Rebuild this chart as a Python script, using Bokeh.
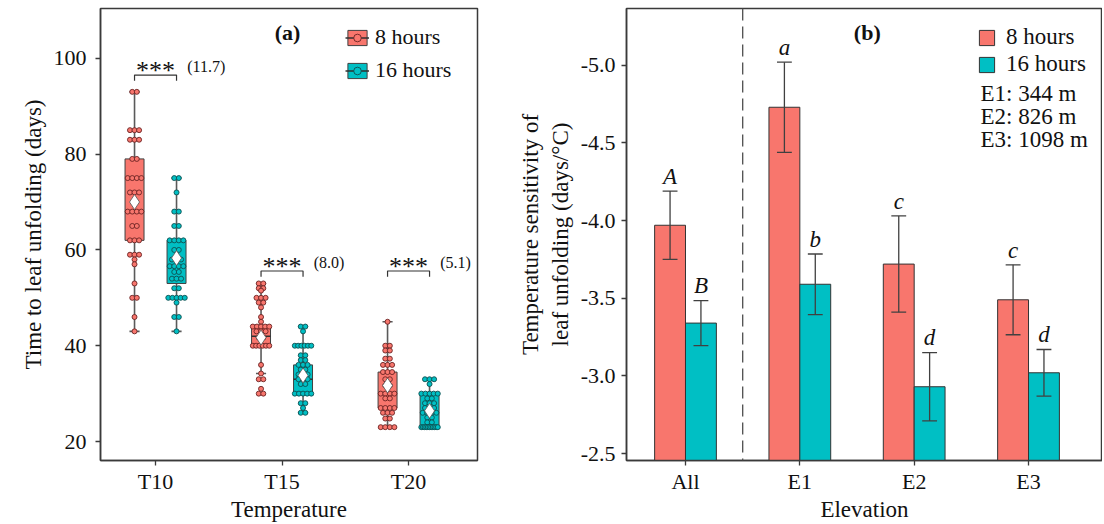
import numpy as np
from collections import Counter
from bokeh.plotting import figure
from bokeh.layouts import row
from bokeh.models import (Range1d, FixedTicker, Legend, LegendItem, Span,
                          NumeralTickFormatter)
from bokeh.core.properties import value
from bokeh.embed import file_html
from bokeh.resources import INLINE

# ---------------- data: panel (a) ----------------
temps = ["T10", "T15", "T20"]
photoperiods = ["8 hours", "16 hours"]
colors = ["#F8766D", "#00BFC4"]
point_edges = ["#6b2323", "#0d4f50"]
y_ticks_a = [20, 40, 60, 80, 100]

pts_8h = {
    "T10": [93, 93, 85, 85, 85, 83, 83, 83, 79, 79, 75, 75, 75, 75, 72, 72, 72, 68, 68, 68, 68,
            65, 65, 62, 62, 62, 59, 59, 59, 58, 57, 53, 50, 50, 46, 43],
    "T15": [53, 53, 52, 52, 51.5, 50, 50, 50, 49, 49, 48, 46, 45, 44, 44, 44, 44, 44, 43, 43, 43,
            41.7, 41.7, 40, 40, 40, 40, 40, 40, 36, 34.2, 33, 33, 31, 30, 30],
    "T20": [45, 40, 40, 39, 39, 37.3, 37.3, 36, 36, 36, 34.5, 34.5, 34.5, 33, 33, 31.7, 31.7,
            30, 30, 30, 30, 29, 29, 27, 27, 27, 27, 26, 26, 26, 24.8, 24.8, 23, 23, 23, 23],
}
pts_16h = {
    "T10": [75, 75, 72, 68, 68, 65, 65, 62, 62, 62, 62, 60, 60, 58, 58, 58, 56.6, 56.6, 56.6, 56.6,
            55.4, 55.4, 54, 54, 54, 52, 52, 50, 50, 50, 50, 50, 49, 46, 46, 43],
    "T15": [44, 44, 43, 40, 40, 40, 40, 40, 40, 38, 38, 37, 37, 36, 36, 36, 35, 35, 34, 34, 34,
            33, 33, 33, 32, 32, 30, 30, 30, 30, 30, 28, 28, 27, 26, 26],
    "T20": [33, 33, 33, 32, 30, 30, 30, 30, 30, 29, 29, 28, 28, 28, 27, 27, 27, 26, 26, 26, 26,
            25, 25, 24, 24, 23, 23, 23, 23, 23, 23, 23, 23, 23, 23, 23],
}
# box statistics: whisker low, Q1, median, Q3, whisker high, mean
lo_8h = [43, 34.2, 23]
q1_8h = [62, 40, 27]
med_8h = [68, 42, 30]
q3_8h = [79, 44, 34.5]
hi_8h = [93, 53, 45]
mean_8h = [70, 41.7, 31.7]

lo_16h = [43, 26, 23]
q1_16h = [53, 30, 23]
med_16h = [56.6, 33, 26]
q3_16h = [62, 36, 30.2]
hi_16h = [75, 44, 33]
mean_16h = [58.3, 33.8, 26.4]

sig_marks = ["***", "***", "***"]
sig_diffs = ["(11.7)", "(8.0)", "(5.1)"]

# ---------------- data: panel (b) ----------------
elevations = ["All", "E1", "E2", "E3"]
elev_m = [344, 826, 1098]
sens_8h = [-3.97, -4.73, -3.72, -3.49]
se_8h = [0.22, 0.29, 0.31, 0.225]
sens_16h = [-3.34, -3.59, -2.93, -3.02]
se_16h = [0.145, 0.195, 0.22, 0.15]
letters_8h = ["A", "a", "c", "c"]
letters_16h = ["B", "b", "d", "d"]
y_ticks_b = [-5.0, -4.5, -4.0, -3.5, -3.0, -2.5]

FONT = "Liberation Serif"
AX = "#3a3a3a"
H = 524


def style_axes(p, fs="22px", lfs="23px"):
    p.xgrid.visible = False
    p.ygrid.visible = False
    p.outline_line_color = AX
    p.outline_line_width = 1.5
    p.background_fill_color = "white"
    p.border_fill_color = "white"
    for ax in (p.xaxis[0], p.yaxis[0]):
        ax.axis_line_color = AX
        ax.axis_line_width = 1.5
        ax.major_tick_line_color = AX
        ax.major_tick_line_width = 1.3
        ax.major_tick_in = 0
        ax.major_tick_out = 5
        ax.minor_tick_line_color = None
        ax.major_label_text_font = FONT
        ax.major_label_text_font_size = fs
        ax.major_label_text_color = "#111111"
        ax.axis_label_text_font = FONT
        ax.axis_label_text_font_size = lfs
        ax.axis_label_text_font_style = "normal"
        ax.axis_label_text_color = "#111111"
    p.xaxis.major_label_standoff = 3
    p.xaxis.axis_label_standoff = 0
    p.yaxis.major_label_standoff = 9


def spread(vals, center, step=0.036, maxw=0.13):
    cnt = Counter(vals)
    seen = {}
    xs = []
    for v in vals:
        k = cnt[v]
        j = seen.get(v, 0)
        seen[v] = j + 1
        s = step if k < 2 else min(step, maxw / (k - 1))
        xs.append(center + (j - (k - 1) / 2) * s)
    return xs


# ================= panel (a) =================
pa = figure(width=485, height=H, x_range=Range1d(-0.435, 2.545), y_range=Range1d(16.04, 110.4),
            output_backend="svg", toolbar_location=None,
            min_border_left=100, min_border_right=8, min_border_top=8, min_border_bottom=H - 8 - 454)
style_axes(pa)
pa.xaxis.ticker = FixedTicker(ticks=list(range(len(temps))))
pa.xaxis.major_label_overrides = {i: t for i, t in enumerate(temps)}
pa.yaxis.ticker = FixedTicker(ticks=y_ticks_a)
pa.xaxis.axis_label = "Temperature"
pa.yaxis.axis_label = "Time to leaf unfolding (days)"

dodge = [-0.166, 0.166]
groups = [
    (pts_8h, lo_8h, q1_8h, med_8h, q3_8h, hi_8h, mean_8h),
    (pts_16h, lo_16h, q1_16h, med_16h, q3_16h, hi_16h, mean_16h),
]
legend_items = []
bw = 0.15
for k, (pts, lo, q1, med, q3, hi, mn) in enumerate(groups):
    xc = [i + dodge[k] for i in range(len(temps))]
    pa.segment(x0=xc, y0=lo, x1=xc, y1=hi, line_color="#5a5a5a", line_width=1.6)
    pa.segment(x0=[x - 0.04 for x in xc], y0=lo, x1=[x + 0.04 for x in xc], y1=lo,
               line_color="#5a5a5a", line_width=1.6)
    pa.segment(x0=[x - 0.04 for x in xc], y0=hi, x1=[x + 0.04 for x in xc], y1=hi,
               line_color="#5a5a5a", line_width=1.6)
    box = pa.vbar(x=xc, top=q3, bottom=q1, width=bw, fill_color=colors[k],
                  line_color="#404040", line_width=1)
    medr = pa.segment(x0=[x - bw / 2 for x in xc], y0=med, x1=[x + bw / 2 for x in xc], y1=med,
                      line_color="#303030", line_width=1.5)
    allx, ally = [], []
    for i, t in enumerate(temps):
        allx += spread(pts[t], xc[i])
        ally += pts[t]
    ptr = pa.scatter(x=allx, y=ally, marker="circle", size=5, fill_color=colors[k],
                     line_color=point_edges[k], line_width=0.9)
    pa.scatter(x=xc, y=mn, marker="diamond", size=15, fill_color="white",
               line_color="#555555", line_width=0.8)
    legend_items.append(LegendItem(label=photoperiods[k], renderers=[box, medr, ptr]))

# significance brackets
br_y = [96.5, 55.6, 55.6]
for i in range(len(temps)):
    x0, x1 = i + dodge[0], i + dodge[1]
    yb = br_y[i]
    pa.line(x=[x0, x0, x1, x1], y=[yb - 1.2, yb, yb, yb - 1.2], line_color="#333333", line_width=1.2)
pa.text(x=[i + 0.0 for i in range(len(temps))], y=[y + 0.9 for y in br_y], text=sig_marks,
        text_font=value(FONT), text_font_size="26px", text_align="center",
        text_baseline="middle", text_color="#111111")
pa.text(x=[i + 0.25 for i in range(len(temps))], y=[y + 1.8 for y in br_y], text=sig_diffs,
        text_font=value(FONT), text_font_size="16px", text_align="left",
        text_baseline="middle", text_color="#111111")
pa.text(x=[1.043], y=[105.4], text=["(a)"], text_font=value(FONT), text_font_size="22px",
        text_font_style="bold", text_align="center", text_baseline="middle", text_color="#111111")

leg_a = Legend(items=legend_items, location=(245, 377), label_text_font=FONT,
               label_text_font_size="22px", glyph_width=24, glyph_height=19, spacing=7,
               padding=0, margin=0, border_line_color=None, background_fill_alpha=0,
               label_standoff=6, label_text_color="#111111")
pa.add_layout(leg_a)

# ================= panel (b) =================
pb = figure(width=617, height=H, x_range=Range1d(-0.516, 3.647), y_range=Range1d(-2.455, -5.366),
            output_backend="svg", toolbar_location=None,
            min_border_left=141, min_border_right=0, min_border_top=8, min_border_bottom=H - 8 - 454)
style_axes(pb)
pb.xaxis.ticker = FixedTicker(ticks=list(range(len(elevations))))
pb.xaxis.major_label_overrides = {i: t for i, t in enumerate(elevations)}
pb.yaxis.ticker = FixedTicker(ticks=y_ticks_b)
pb.yaxis.formatter = NumeralTickFormatter(format="0.0")
pb.yaxis.major_label_standoff = 6
pb.xaxis.axis_label = "Elevation"
pb.yaxis.axis_label = "Temperature sensitivity of\nleaf unfolding (days/\u00b0C)"

pb.add_layout(Span(location=0.5, dimension="height", line_color="#555555", line_width=1.4,
                   line_dash="12 6"))

bar_w = 0.27
b_items = []
for k, (vals, ses, lets) in enumerate([(sens_8h, se_8h, letters_8h), (sens_16h, se_16h, letters_16h)]):
    off = -bar_w / 2 if k == 0 else bar_w / 2
    xs = [i + off for i in range(len(elevations))]
    r = pb.vbar(x=xs, top=vals, bottom=-2.3, width=bar_w, fill_color=colors[k],
                line_color="#333333", line_width=1)
    b_items.append(LegendItem(label=photoperiods[k], renderers=[r]))
    up = [v - s for v, s in zip(vals, ses)]
    dn = [v + s for v, s in zip(vals, ses)]
    pb.segment(x0=xs, y0=up, x1=xs, y1=dn, line_color="#404040", line_width=1.3)
    pb.segment(x0=[x - 0.065 for x in xs], y0=up, x1=[x + 0.065 for x in xs], y1=up,
               line_color="#404040", line_width=1.3)
    pb.segment(x0=[x - 0.065 for x in xs], y0=dn, x1=[x + 0.065 for x in xs], y1=dn,
               line_color="#404040", line_width=1.3)
    pb.text(x=xs, y=[u - 0.015 for u in up], text=lets, text_font=value(FONT),
            text_font_size="23px", text_font_style="italic", text_align="center",
            text_baseline="bottom", text_color="#111111")

pb.text(x=[1.59], y=[-5.21], text=["(b)"], text_font=value(FONT), text_font_size="22px",
        text_font_style="bold", text_align="center", text_baseline="middle", text_color="#111111")
elev_txt = [f"{e}: {m} m" for e, m in zip(elevations[1:], elev_m)]
pb.text(x=[2.58] * 3, y=[-4.82, -4.67, -4.52], text=elev_txt, text_font=value(FONT),
        text_font_size="23px", text_align="left", text_baseline="middle", text_color="#111111")

leg_b = Legend(items=b_items, location=(351, 383), label_text_font=FONT,
               label_text_font_size="23px", glyph_width=19, glyph_height=19, spacing=1,
               padding=0, margin=0, border_line_color=None, background_fill_alpha=0,
               label_standoff=10, label_text_color="#111111")
pb.add_layout(leg_b)

layout = row(pa, pb)
open("out.html", "w").write(file_html(layout, INLINE))
